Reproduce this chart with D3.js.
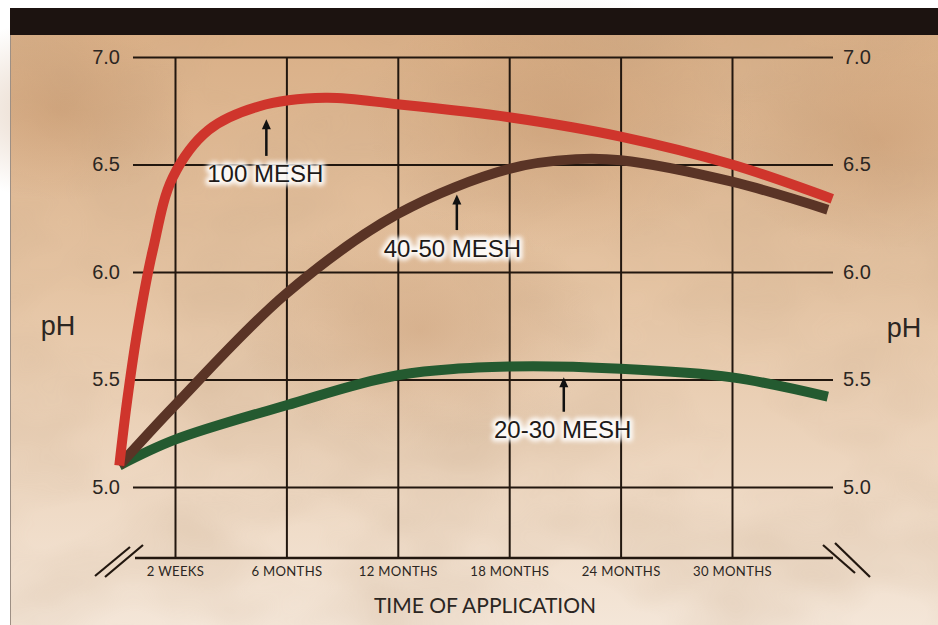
<!DOCTYPE html>
<html>
<head>
<meta charset="utf-8">
<script src="https://cdn.jsdelivr.net/npm/d3@7/dist/d3.min.js"></script>
<style>
    html, body { margin: 0; padding: 0; background: #fff; }
    svg { display: block; }
    .tick text { font-family: "Liberation Sans", Arial, sans-serif; }
</style>
</head>
<body>
<svg id="chart" width="938" height="625"></svg>
<script>

// 
// pH over time for three lime particle sizes.
// x positions are in grid steps: 0 = 2 weeks, 1 = 6 months ... 5 = 30 months.
// 

var yTicks = [5.0, 5.5, 6.0, 6.5, 7.0];
var xTicks = [0, 1, 2, 3, 4, 5];
var xTickLabels = ['2 WEEKS', '6 MONTHS', '12 MONTHS', '18 MONTHS', '24 MONTHS', '30 MONTHS'];

var mesh100 = [[-0.5, 5.1], [-0.43, 5.4], [-0.33, 5.75], [-0.2, 6.1], [-0.02, 6.44], [0.3, 6.66],
               [0.75, 6.77], [1.35, 6.81], [2, 6.78], [3, 6.72], [4, 6.63], [5, 6.5], [5.9, 6.34]];
var mesh4050 = [[-0.5, 5.1], [0, 5.38], [1, 5.9], [2, 6.27], [3, 6.48],
                [3.6, 6.525], [4, 6.52], [5, 6.42], [5.86, 6.29]];
var mesh2030 = [[-0.5, 5.1], [0, 5.22], [1, 5.38], [2, 5.52], [3, 5.56], [4, 5.55], [5, 5.51], [5.86, 5.42]];

var seriesNames = ['100 MESH', '40-50 MESH', '20-30 MESH'];
var seriesColors = ['#cf352c', '#5a3426', '#245a30'];

// label anchor (x step, baseline pH) and arrow (x step, from pH, to pH)
var labelAt = [[0.81, 6.42], [2.49, 6.07], [3.48, 5.23]];
var arrowAt = [[0.82, 6.54, 6.71], [2.53, 6.195, 6.36], [3.49, 5.35, 5.51]];

var W = 938, H = 625,
    gridLeft = 133, gridRight = 833, axisY = 558;

var x = d3.scaleLinear().domain([0, 5]).range([175, 732]),
    y = d3.scaleLinear().domain([5, 7]).range([487, 57]);

var svg = d3.select('#chart');
var defs = svg.append('defs');

draw_background();
draw_axes();
draw_series();
draw_labels();

function draw_background()
{
    var grad = defs.append('linearGradient')
        .attr('id', 'paper').attr('x1', 0).attr('y1', 0).attr('x2', 0).attr('y2', 1);
    grad.append('stop').attr('offset', '0%').attr('stop-color', '#d8ad84');
    grad.append('stop').attr('offset', '45%').attr('stop-color', '#e5c4a3');
    grad.append('stop').attr('offset', '100%').attr('stop-color', '#f4e6d8');

    var mottle = defs.append('filter').attr('id', 'mottle')
        .attr('x', 0).attr('y', 0).attr('width', 1).attr('height', 1);
    mottle.append('feTurbulence')
        .attr('type', 'fractalNoise').attr('baseFrequency', '0.006 0.01')
        .attr('numOctaves', 3).attr('seed', 7).attr('result', 'noise');
    mottle.append('feColorMatrix')
        .attr('in', 'noise').attr('type', 'matrix')
        .attr('values', '0 0 0 0 0.55  0 0 0 0 0.38  0 0 0 0 0.24  0 0 0 -1.6 1.05');

    var blotch = defs.append('radialGradient').attr('id', 'blotch');
    blotch.append('stop').attr('offset', '0%').attr('stop-color', '#b9875c').attr('stop-opacity', 0.35);
    blotch.append('stop').attr('offset', '100%').attr('stop-color', '#b9875c').attr('stop-opacity', 0);

    svg.append('rect').attr('x', 10).attr('y', 8).attr('width', W - 10).attr('height', H - 8)
        .attr('fill', 'url(#paper)');
    svg.append('rect').attr('x', 10).attr('y', 8).attr('width', W - 10).attr('height', H - 8)
        .attr('filter', 'url(#mottle)').attr('opacity', 0.35);

    [[420, 330, 120], [880, 140, 110], [560, 120, 130], [60, 110, 90]].forEach(function(b)
    {
        svg.append('ellipse').attr('cx', b[0]).attr('cy', b[1]).attr('rx', b[2] * 1.5).attr('ry', b[2])
            .attr('fill', 'url(#blotch)');
    });

    svg.append('rect').attr('x', 10).attr('y', 8).attr('width', W - 10).attr('height', 27)
        .attr('fill', '#1c1310');
    svg.append('line').attr('x1', 10.5).attr('x2', 10.5).attr('y1', 35).attr('y2', H)
        .attr('stroke', '#9d8f84').attr('stroke-width', 1);
}

function draw_axes()
{
    var ink = '#22170f';

    var left = svg.append('g').attr('transform', 'translate(' + gridLeft + ',0)')
        .call(d3.axisLeft(y).tickValues(yTicks).tickFormat(d3.format('.1f'))
            .tickSize(-(gridRight - gridLeft)).tickPadding(13));

    var right = svg.append('g').attr('transform', 'translate(' + gridRight + ',0)')
        .call(d3.axisRight(y).tickValues(yTicks).tickFormat(d3.format('.1f'))
            .tickSize(0).tickPadding(10));

    var bottom = svg.append('g').attr('transform', 'translate(0,' + axisY + ')')
        .call(d3.axisBottom(x).tickValues(xTicks).tickFormat(function(d, i) { return xTickLabels[i] })
            .tickSize(-(axisY - y(7))).tickPadding(9));

    [left, right, bottom].forEach(function(g)
    {
        g.select('.domain').remove();
        g.selectAll('line').attr('stroke', ink).attr('stroke-width', 2);
        g.selectAll('text').attr('fill', '#2b2622');
    });

    left.selectAll('text').style('font-size', '20px');
    right.selectAll('text').style('font-size', '20px');
    bottom.selectAll('text')
        .style('font-family', 'Lato, "Liberation Sans", sans-serif')
        .style('font-size', '12.5px')
        .style('letter-spacing', '0.3px')
        .attr('transform', 'scale(1.05,1)');

    svg.append('line').attr('x1', 135).attr('x2', gridRight).attr('y1', axisY).attr('y2', axisY)
        .attr('stroke', ink).attr('stroke-width', 2.5);

    // axis break marks
    var breaks = [[95, 576, 130, 547], [105, 577, 143, 545], [823, 545, 855, 573], [835, 543, 870, 577]];
    svg.selectAll('line.break').data(breaks).enter().append('line')
        .attr('class', 'break')
        .attr('x1', function(d) { return d[0] }).attr('y1', function(d) { return d[1] })
        .attr('x2', function(d) { return d[2] }).attr('y2', function(d) { return d[3] })
        .attr('stroke', ink).attr('stroke-width', 2.2);

    svg.append('text').attr('x', 58).attr('y', 335).attr('text-anchor', 'middle')
        .style('font-family', '"Liberation Sans", Arial, sans-serif').style('font-size', '27px')
        .attr('fill', '#2b2622').text('pH');
    svg.append('text').attr('x', 904).attr('y', 337).attr('text-anchor', 'middle')
        .style('font-family', '"Liberation Sans", Arial, sans-serif').style('font-size', '27px')
        .attr('fill', '#2b2622').text('pH');

    svg.append('text').attr('x', 485).attr('y', 613).attr('text-anchor', 'middle')
        .style('font-family', 'Lato, "Liberation Sans", sans-serif').style('font-size', '21px')
        .attr('fill', '#2b2622').text('TIME OF APPLICATION');
}

function draw_series()
{
    var line = d3.line()
        .x(function(d) { return x(d[0]) })
        .y(function(d) { return y(d[1]) })
        .curve(d3.curveCatmullRom.alpha(0.5));

    var all = [mesh2030, mesh4050, mesh100],
        colors = [seriesColors[2], seriesColors[1], seriesColors[0]];

    svg.selectAll('path.series').data(all).enter().append('path')
        .attr('class', 'series')
        .attr('d', line)
        .attr('fill', 'none')
        .attr('stroke', function(d, i) { return colors[i] })
        .attr('stroke-width', 10)
        .attr('stroke-linejoin', 'round');
}

function draw_labels()
{
    var glow = defs.append('filter').attr('id', 'glow');
    glow.append('feGaussianBlur').attr('stdDeviation', 2);

    var labels = svg.selectAll('g.label').data(seriesNames).enter().append('g').attr('class', 'label');

    labels.append('text')
        .attr('x', function(d, i) { return x(labelAt[i][0]) })
        .attr('y', function(d, i) { return y(labelAt[i][1]) })
        .attr('text-anchor', 'middle')
        .style('font-family', '"Liberation Sans", Arial, sans-serif').style('font-size', '24px')
        .attr('stroke', '#fff').attr('stroke-width', 7).attr('stroke-linejoin', 'round')
        .attr('fill', '#fff').attr('filter', 'url(#glow)').attr('opacity', 0.9)
        .text(function(d) { return d });

    labels.append('text')
        .attr('x', function(d, i) { return x(labelAt[i][0]) })
        .attr('y', function(d, i) { return y(labelAt[i][1]) })
        .attr('text-anchor', 'middle')
        .style('font-family', '"Liberation Sans", Arial, sans-serif').style('font-size', '24px')
        .attr('fill', '#1e1a18')
        .text(function(d) { return d });

    labels.append('line')
        .attr('x1', function(d, i) { return x(arrowAt[i][0]) })
        .attr('x2', function(d, i) { return x(arrowAt[i][0]) })
        .attr('y1', function(d, i) { return y(arrowAt[i][1]) })
        .attr('y2', function(d, i) { return y(arrowAt[i][2]) + 6 })
        .attr('stroke', '#111').attr('stroke-width', 2.5);

    labels.append('path')
        .attr('d', function(d, i)
        {
            var ax = x(arrowAt[i][0]), ay = y(arrowAt[i][2]);
            return 'M' + ax + ',' + ay + 'L' + (ax - 4.5) + ',' + (ay + 10) + 'L' + (ax + 4.5) + ',' + (ay + 10) + 'Z';
        })
        .attr('fill', '#111');
}

</script>
</body>
</html>
